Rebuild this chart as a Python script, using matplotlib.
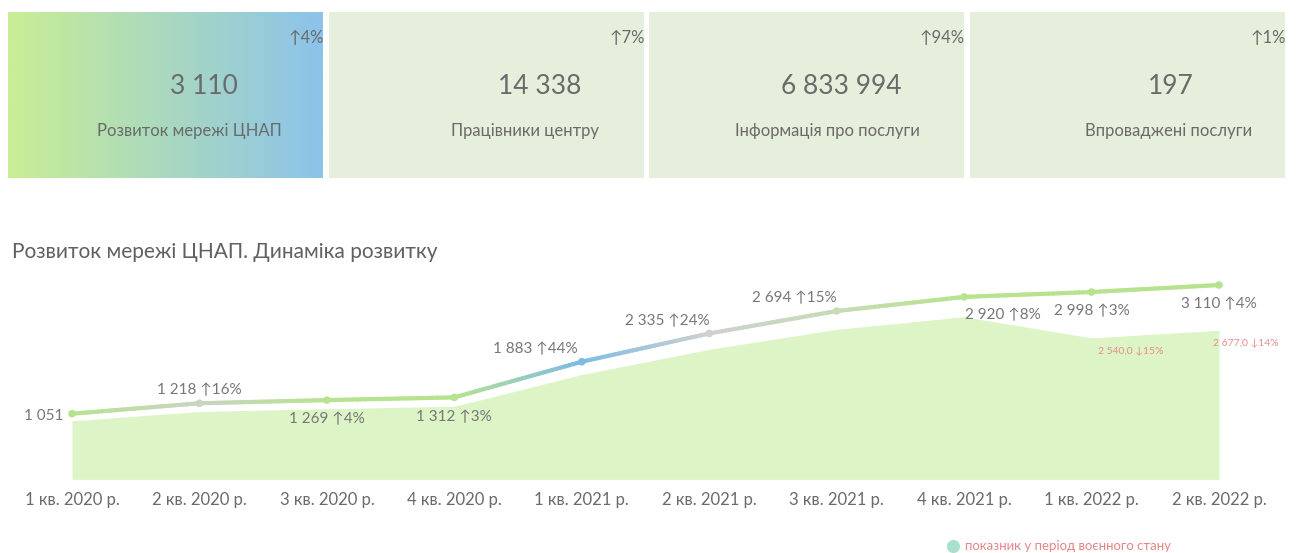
import matplotlib
matplotlib.use("Agg")
import matplotlib.pyplot as plt
import numpy as np
from matplotlib.collections import LineCollection
from matplotlib.colors import to_rgb

plt.rcParams['font.family'] = ['Lato', 'DejaVu Sans']

# ---- data ----
card_values = ["3 110", "14 338", "6 833 994", "197"]
card_labels = ["Розвиток мережі ЦНАП", "Працівники центру", "Інформація про послуги", "Впроваджені послуги"]
card_change = ["↑4%", "↑7%", "↑94%", "↑1%"]

quarters = ["1 кв. 2020 р.", "2 кв. 2020 р.", "3 кв. 2020 р.", "4 кв. 2020 р.", "1 кв. 2021 р.",
            "2 кв. 2021 р.", "3 кв. 2021 р.", "4 кв. 2021 р.", "1 кв. 2022 р.", "2 кв. 2022 р."]
centers = [1051, 1218, 1269, 1312, 1883, 2335, 2694, 2920, 2998, 3110]
growth = [None, 16, 4, 3, 44, 24, 15, 8, 3, 4]
war_values = [1051, 1218, 1269, 1312, 1883, 2335, 2694, 2920, 2540, 2677]
war_change = [None, None, None, None, None, None, None, None, -15, -14]

point_colors = ["#b8e38e", "#c9d4c2", "#b8e38e", "#b8e38e", "#7cbce4",
                "#cfd1cf", "#c6dcb6", "#b8e38e", "#b8e38e", "#b8e38e"]

W, H = 1299, 553
fig = plt.figure(figsize=(W / 100, H / 100), dpi=100)

# overlay in pixel coordinates for cards / title / legend
ov = fig.add_axes([0, 0, 1, 1])
ov.set_xlim(0, W)
ov.set_ylim(H, 0)
ov.axis("off")

card_x = [8, 329, 649, 970]
card_w = 315
num_x = [204, 540, 841, 1171]
lab_x = [189, 525, 827, 1169]
for i in range(4):
    x0 = card_x[i]
    if i == 0:
        c1 = np.array(to_rgb("#c9ee95"))
        c2 = np.array(to_rgb("#8bc3ea"))
        t = np.linspace(0, 1, 200)
        grad = c1[None, :] * (1 - t[:, None]) + c2[None, :] * t[:, None]
        img = np.tile(grad[None, :, :], (20, 1, 1))
        ov.imshow(img, extent=[x0, x0 + card_w, 178, 12], aspect="auto", zorder=1)
    else:
        ov.add_patch(plt.Rectangle((x0, 12), card_w, 166, color="#e6efdc", zorder=1, lw=0))
    ov.text(num_x[i], 86, card_values[i], fontsize=19, color="#6a6a6a", ha="center", va="center",
            zorder=3)
    ov.text(lab_x[i], 131, card_labels[i], fontsize=12, color="#6a6a6a", ha="center", va="center",
            zorder=3)
    ov.text(x0 + card_w + 1, 38, card_change[i], fontsize=12, color="#6a6a6a", ha="right", va="center",
            zorder=3)

ov.text(12, 252, "Розвиток мережі ЦНАП. Динаміка розвитку", fontsize=15, color="#606060",
        ha="left", va="center")

ov.scatter([953], [546], s=90, color="#a8e2cf", zorder=3, lw=0)
ov.text(965, 546, "показник у період воєнного стану", fontsize=9.5, color="#e48686",
        ha="left", va="center")

# ---- main chart ----
x = np.arange(len(quarters))
left_px, right_px = 8.3, 1282.7
bottom_px, top_px = 479.4, 270
ax = fig.add_axes([left_px / W, 1 - bottom_px / H, (right_px - left_px) / W, (bottom_px - top_px) / H])
ax.set_xlim(-0.5, len(quarters) - 0.5)
ax.set_ylim(0, (bottom_px - top_px) / 0.0625)
ax.patch.set_alpha(0)

ax2 = ax.twinx()
ax2.set_ylim(0, (bottom_px - top_px) / 0.0557)
ax2.fill_between(x, war_values, 0, color="#dcf4c6", lw=0, zorder=1)
ax2.axis("off")
ax.set_zorder(ax2.get_zorder() + 1)

# gradient coloured line
segs, cols = [], []
for i in range(len(x) - 1):
    ca = np.array(to_rgb(point_colors[i]))
    cb = np.array(to_rgb(point_colors[i + 1]))
    for k in range(30):
        t0, t1 = k / 30, (k + 1) / 30
        segs.append([(x[i] + t0, centers[i] + (centers[i + 1] - centers[i]) * t0),
                     (x[i] + t1, centers[i] + (centers[i + 1] - centers[i]) * t1)])
        cols.append(ca * (1 - (t0 + t1) / 2) + cb * (t0 + t1) / 2)
ax.add_collection(LineCollection(segs, colors=cols, linewidths=3, capstyle="round", zorder=3))
ax.scatter(x, centers, s=30, color=point_colors, zorder=4, lw=0)


def fmt(v):
    return f"{v:,}".replace(",", " ")


# label placement (offset in points, alignment)
offsets = [((-6, -2), "right"), ((0, 9), "center"), ((0, -14), "center"), ((0, -14.5), "center"),
           ((-3, 9), "right"), ((0, 9), "right"), ((0, 9.5), "right"), ((1, -13), "left"),
           ((0, -14), "center"), ((0, -14), "center")]
for i, v in enumerate(centers):
    txt = fmt(v) if growth[i] is None else f"{fmt(v)} ↑{growth[i]}%"
    (dx, dy), ha = offsets[i]
    ax.annotate(txt, (x[i], v), xytext=(dx, dy), textcoords="offset points",
                ha=ha, va="center", fontsize=11, color="#777777", zorder=5)

for i, v in enumerate(war_values):
    if war_change[i] is None:
        continue
    txt = f"{fmt(v)},0 ↓{abs(war_change[i])}%"
    ax2.annotate(txt, (x[i], v), xytext=(19 if i == 9 else 28, -9), textcoords="offset points",
                 ha="center", va="center", fontsize=7.5, color="#e88c8a", zorder=5)

ax.set_xticks(x)
ax.set_xticklabels(quarters, fontsize=12, color="#6a6a6a")
ax.tick_params(axis="x", length=0, pad=9)
ax.set_yticks([])
for s in ax.spines.values():
    s.set_visible(False)

fig.savefig("out.png", dpi=100)
